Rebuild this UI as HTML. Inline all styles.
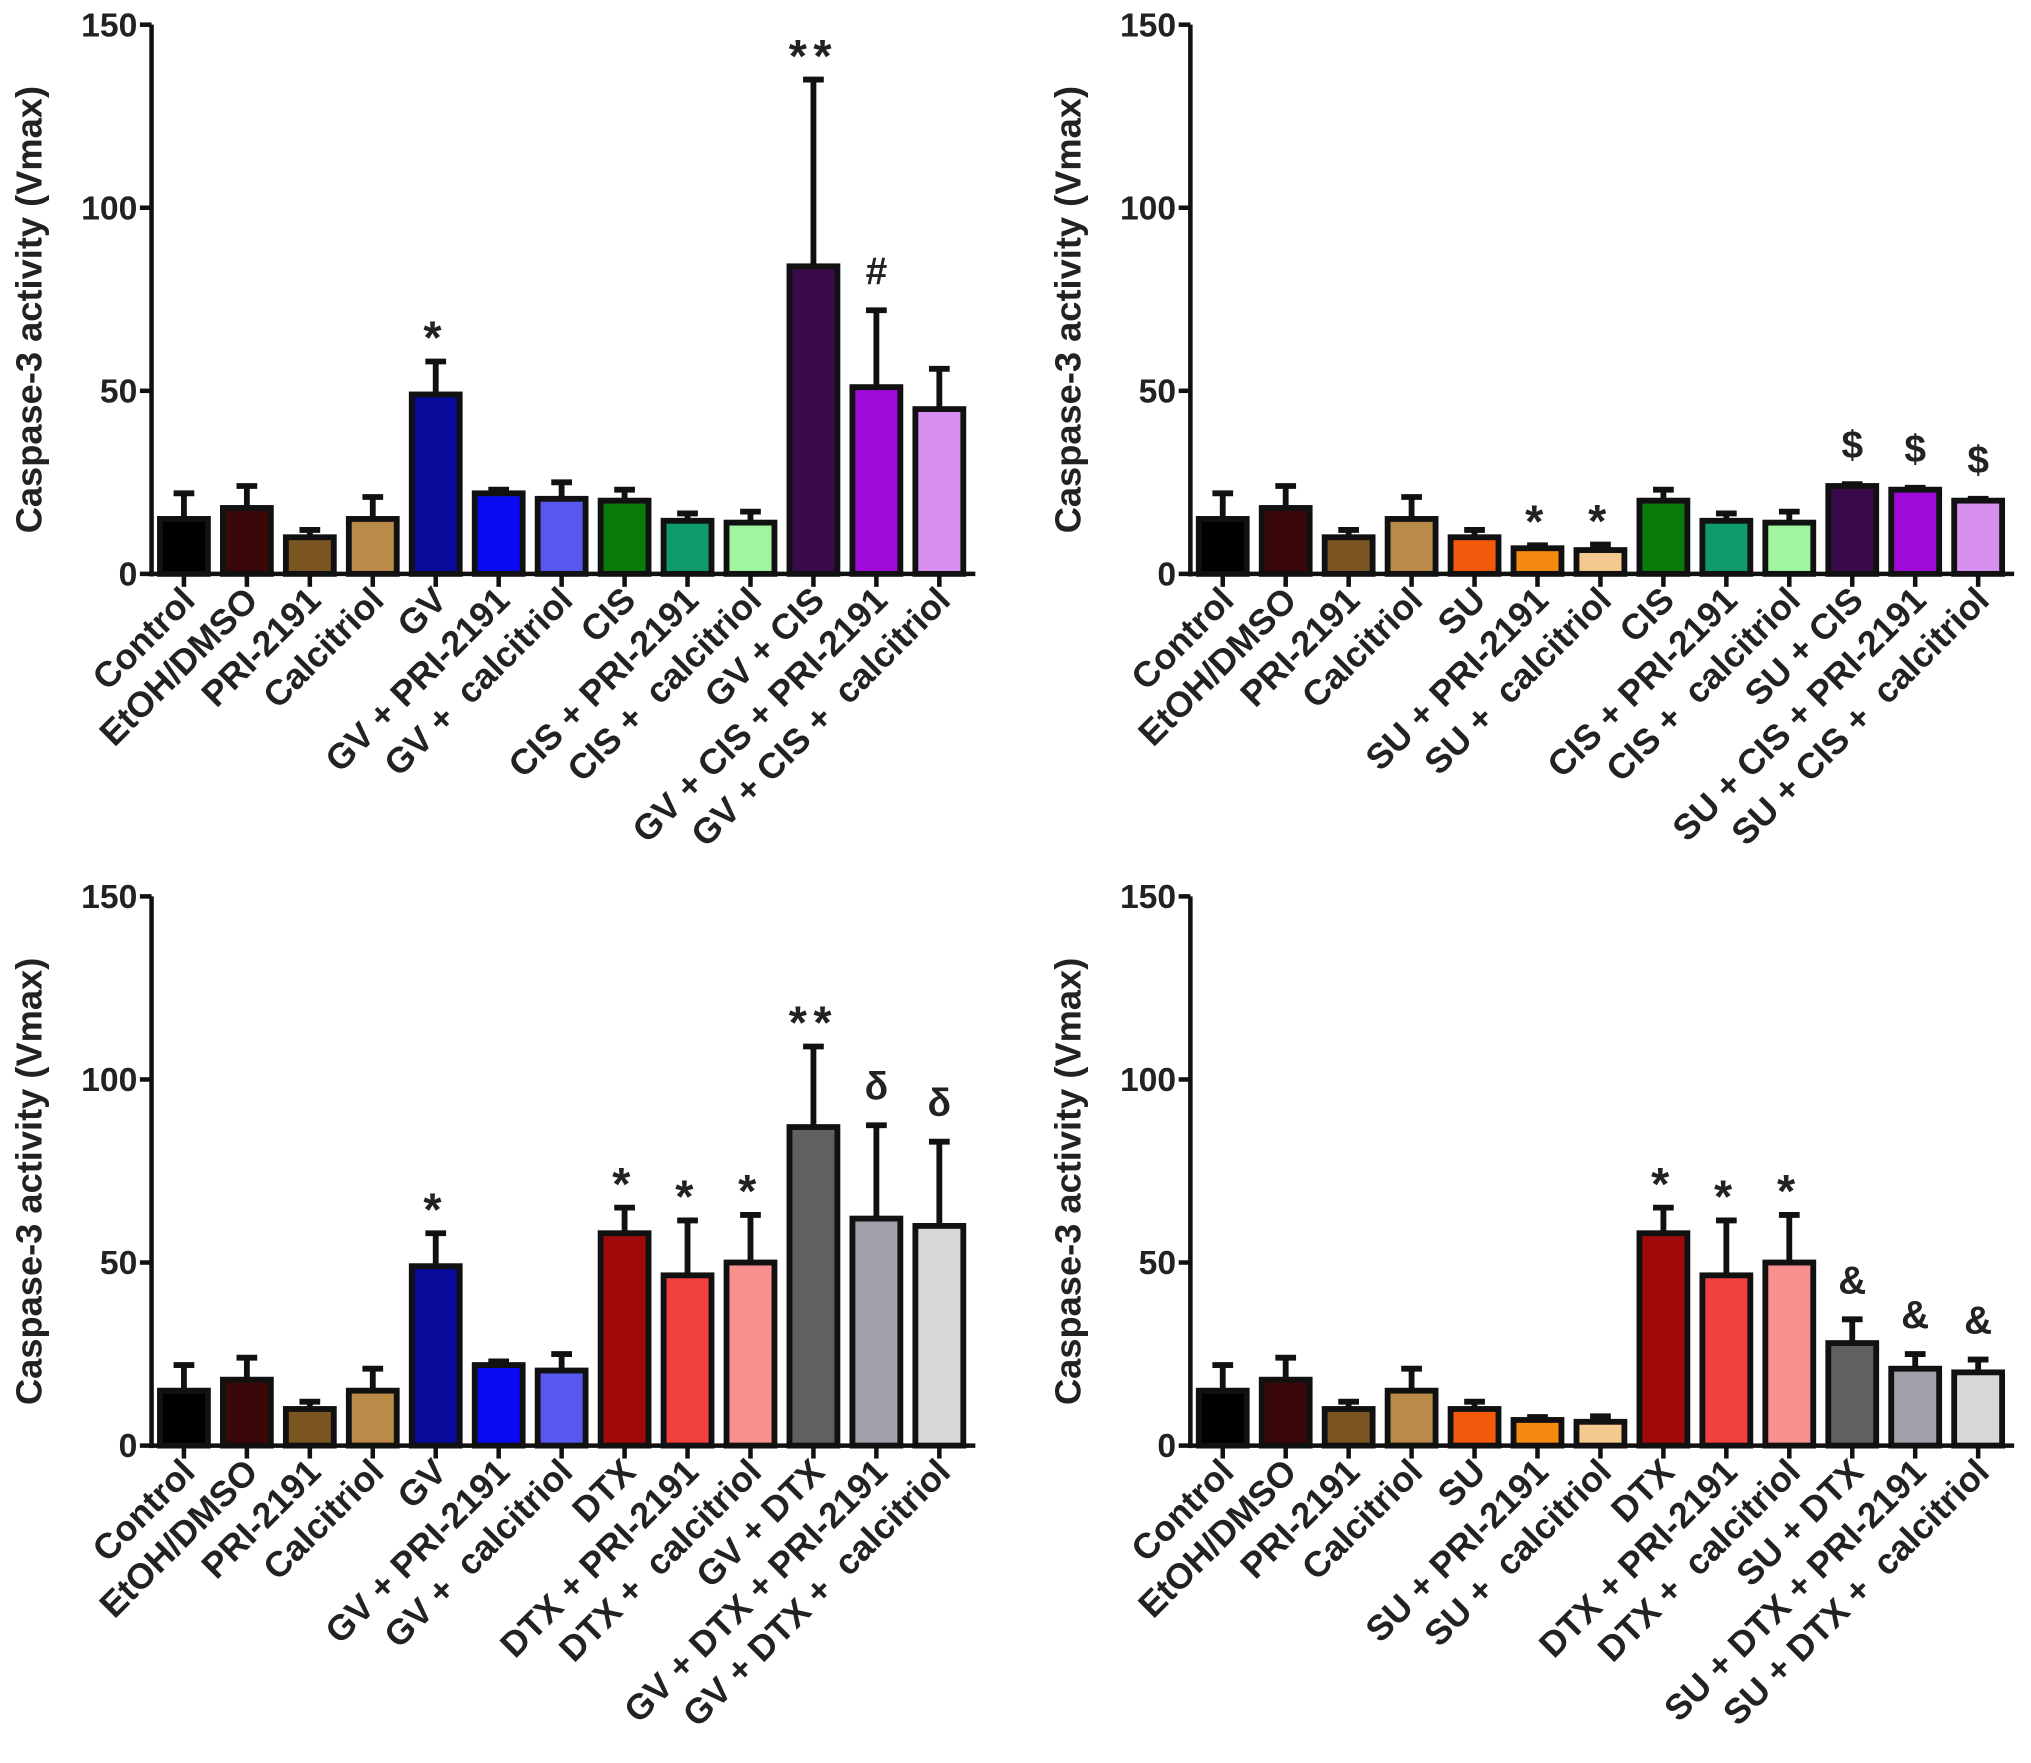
<!DOCTYPE html>
<html><head><meta charset="utf-8"><style>
html,body{margin:0;padding:0;background:#fff}
svg{display:block}
text{font-family:"Liberation Sans",Arial,sans-serif;font-weight:bold;fill:#222}
</style></head><body>
<svg id="fig" width="2031" height="1763" viewBox="0 0 1568 1361" xmlns="http://www.w3.org/2000/svg"></svg>
<script>
// ---- data ----
const catsA = ["Control","EtOH/DMSO","PRI-2191","Calcitriol","GV","GV + PRI-2191","GV +  calcitriol","CIS","CIS + PRI-2191","CIS +  calcitriol","GV + CIS","GV + CIS + PRI-2191","GV + CIS +  calcitriol"];
const valsA = [15,18,10,15,49,22,20.5,20,14.5,14,84,51,45];
const errsA = [22,24,12,21,58,23,25,23,16.5,17,135,72,56];
const colsA = ["#000000","#3a0808","#7a5522","#b98a48","#0a0a9a","#0a0af2","#5858ee","#0a7a0a","#0e9a6a","#a0f5a0","#3a0a4a","#a00ad8","#d890f0"];
const annA = ["","","","","*","","","","","","**","#",""];

const catsB = ["Control","EtOH/DMSO","PRI-2191","Calcitriol","SU","SU + PRI-2191","SU +  calcitriol","CIS","CIS + PRI-2191","CIS +  calcitriol","SU + CIS","SU + CIS + PRI-2191","SU + CIS +  calcitriol"];
const valsB = [15,18,10,15,10,7,6.5,20,14.5,14,24,23,20];
const errsB = [22,24,12,21,12,7.8,8,23,16.5,17,24.5,23.5,20.5];
const colsB = ["#000000","#3a0808","#7a5522","#b98a48","#f05a0a","#f58a10","#f5c890","#0a7a0a","#0e9a6a","#a0f5a0","#3a0a4a","#a00ad8","#d890f0"];
const annB = ["","","","","","*","*","","","","$","$","$"];

const catsC = ["Control","EtOH/DMSO","PRI-2191","Calcitriol","GV","GV + PRI-2191","GV +  calcitriol","DTX","DTX + PRI-2191","DTX +  calcitriol","GV + DTX","GV + DTX + PRI-2191","GV + DTX +  calcitriol"];
const valsC = [15,18,10,15,49,22,20.5,58,46.5,50,87,62,60];
const errsC = [22,24,12,21,58,23,25,65,61.5,63,109,87.5,83];
const colsC = ["#000000","#3a0808","#7a5522","#b98a48","#0a0a9a","#0a0af2","#5858ee","#a00a0a","#f04040","#f89090","#606060","#a0a0a8","#d8d8d8"];
const annC = ["","","","","*","","","*","*","*","**","δ","δ"];

const catsD = ["Control","EtOH/DMSO","PRI-2191","Calcitriol","SU","SU + PRI-2191","SU +  calcitriol","DTX","DTX + PRI-2191","DTX +  calcitriol","SU + DTX","SU + DTX + PRI-2191","SU + DTX +  calcitriol"];
const valsD = [15,18,10,15,10,7,6.5,58,46.5,50,28,21,20];
const errsD = [22,24,12,21,12,7.8,8,65,61.5,63,34.5,25,23.5];
const colsD = ["#000000","#3a0808","#7a5522","#b98a48","#f05a0a","#f58a10","#f5c890","#a00a0a","#f04040","#f89090","#606060","#a0a0a8","#d8d8d8"];
const annD = ["","","","","","","","*","*","*","&","&","&"];

const yTicks = [0,50,100,150];

const NS = "http://www.w3.org/2000/svg";
const svg = document.getElementById("fig");
function mk(tag, attrs, parent){const e=document.createElementNS(NS,tag);for(const k in attrs)e.setAttribute(k,attrs[k]);(parent||svg).appendChild(e);return e;}

function panel(id, ox, oy, cats, vals, errs, cols, ann){
  const g = mk("g",{});
  
  
  const x0 = ox, yTop = oy, yZero = oy + 424, xEnd = ox + 636;
  const step = 48.6, first = ox + 25, bw = 37;
  const yS = v => yZero - v/150*(yZero - yTop);
  const xS = i => first + i*step;
  const ya = mk("line",{x1:x0,y1:yTop,x2:x0,y2:yZero+2,stroke:"#111","stroke-width":3.5},g);
  
  
  yTicks.forEach(t=>{
    const y=yS(t);
    mk("line",{x1:x0-9,y1:y,x2:x0,y2:y,stroke:"#111","stroke-width":3.5},g);
    const tl=mk("text",{x:x0-11,y:y+9,"text-anchor":"end","font-size":26},g);
    tl.textContent=t;
    
    
  });
  const yt=mk("text",{x:0,y:0,"text-anchor":"middle","font-size":28,transform:`translate(${ox-85},${(yTop+yZero)/2+8}) rotate(-90)`},g);
  yt.textContent="Caspase-3 activity (Vmax)";
  
  
  cats.forEach((c,i)=>{
    const cx=xS(i);
    const et=yS(errs[i]);
    const eb=mk("line",{x1:cx,y1:yS(vals[i]),x2:cx,y2:et,stroke:"#111","stroke-width":4.5},g);
    
    
    mk("line",{x1:cx-8,y1:et,x2:cx+8,y2:et,stroke:"#111","stroke-width":4.5},g);
    const b=mk("rect",{x:cx-bw/2,y:yS(vals[i]),width:bw,height:yZero-yS(vals[i]),fill:cols[i],stroke:"#111","stroke-width":4.5},g);
    
    
    mk("line",{x1:cx,y1:yZero,x2:cx,y2:yZero+10,stroke:"#111","stroke-width":3.5},g);
    const lt=mk("text",{x:0,y:0,"text-anchor":"end","font-size":27.5,"xml:space":"preserve",style:"white-space:pre",transform:`translate(${cx+10},${yZero+22}) rotate(-45)`},g);
    lt.textContent=c;
    
    
    if(ann[i]){
      const isStar = ann[i].indexOf("*")>=0;
      const at=mk("text",{x:cx,y:et-(isStar?6:20),"text-anchor":"middle","font-size":isStar?36:30,"letter-spacing":isStar?5:0},g);
      if(isStar) at.setAttribute("font-weight","normal");
      if(ann[i]==="δ"){at.setAttribute("font-weight","normal");at.setAttribute("fill","#555");}
      at.textContent=ann[i];
      
      
    }
  });
  const xa=mk("line",{x1:x0-1.5,y1:yZero,x2:xEnd,y2:yZero,stroke:"#111","stroke-width":3.5},g);
  
  
}
panel("panel-gv-cis",117,19,catsA,valsA,errsA,colsA,annA);
panel("panel-su-cis",919,19,catsB,valsB,errsB,colsB,annB);
panel("panel-gv-dtx",117,692,catsC,valsC,errsC,colsC,annC);
panel("panel-su-dtx",919,692,catsD,valsD,errsD,colsD,annD);
</script>
</body></html>
